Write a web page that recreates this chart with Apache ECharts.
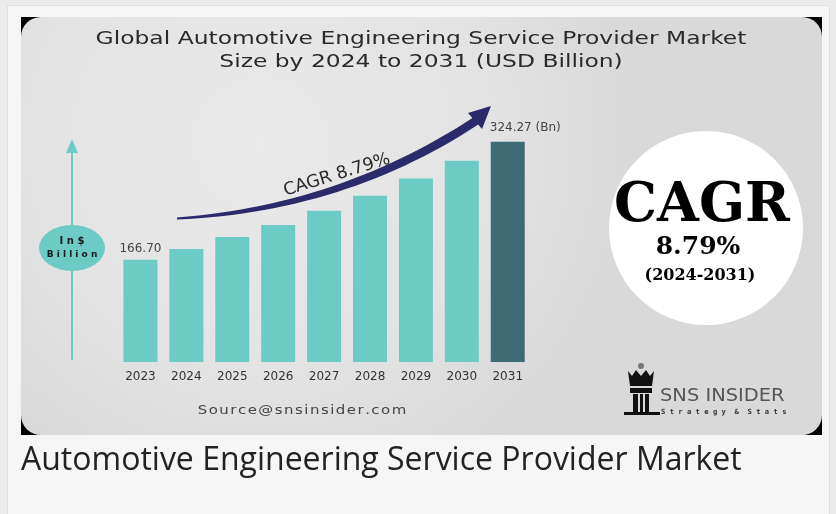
<!DOCTYPE html>
<html>
<head>
<meta charset="utf-8">
<script src="https://cdn.jsdelivr.net/npm/echarts@6/dist/echarts.min.js"></script>
<style>
html,body{margin:0;padding:0;background:#ececec;}
#chart{width:836px;height:514px;}
</style>
</head>
<body>
<div id="chart"></div>
<script>
const years = ['2023','2024','2025','2026','2027','2028','2029','2030','2031'];
const marketSize = [166.70, 181, 197, 213, 232, 252, 275, 299, 324.27];
const titleLines = ['Global Automotive Engineering Service Provider Market', 'Size by 2024 to 2031 (USD Billion)'];
const cagrText = 'CAGR 8.79%';
const cagrValue = '8.79%';
const cagrPeriod = '(2024-2031)';
const unitLabel = ['In$', 'Billion'];
const sourceText = 'Source@snsinsider.com';
const caption = 'Automotive Engineering Service Provider Market';

const teal = '#6ccbc4';
const dark = '#3d6a75';

const chart = echarts.init(document.getElementById('chart'), null, {renderer: 'canvas'});

const barData = marketSize.map((v, i) => {
  const item = {value: v, itemStyle: {color: i === marketSize.length - 1 ? dark : teal}};
  if (i === 0) {
    item.label = {show: true, position: 'top', distance: 5, formatter: (p) => p.value.toFixed(2)};
  } else if (i === marketSize.length - 1) {
    item.label = {show: true, position: [-1, -14], align: 'left', verticalAlign: 'middle',
      formatter: (p) => p.value.toFixed(2) + ' (Bn)'};
  }
  return item;
});

// decorative swoosh outline for the CAGR arrow
function quad(p0, p1, p2, n) {
  const pts = [];
  for (let k = 0; k <= n; k++) {
    const t = k / n, u = 1 - t;
    pts.push([u * u * p0[0] + 2 * u * t * p1[0] + t * t * p2[0], u * u * p0[1] + 2 * u * t * p1[1] + t * t * p2[1]]);
  }
  return pts;
}
const swooshPts = quad([177, 217.5], [340, 205], [474, 117], 30).concat(quad([479, 124], [345, 212.5], [177, 219.5], 30));
const spaced = (s, sep) => s.split('').join(sep);

const option = {
  backgroundColor: '#f6f6f6',
  animation: false,
  grid: {left: 117.5, right: 836 - 530.7, top: 100, bottom: 514 - 362},
  xAxis: {
    type: 'category', data: years,
    axisLine: {show: false}, axisTick: {show: false},
    axisLabel: {color: '#333', fontSize: 12, fontFamily: 'DejaVu Sans', margin: 9}
  },
  yAxis: {type: 'value', min: 30, max: 380, show: false},
  series: [{
    type: 'bar', data: barData, barWidth: 34,
    label: {show: false, color: '#444', fontSize: 12, fontFamily: 'DejaVu Sans'},
    z: 5
  }],
  graphic: [
    // outer page area
    {type: 'rect', z: -30, shape: {x: 0, y: 0, width: 836, height: 5}, style: {fill: '#ececec'}},
    {type: 'rect', z: -30, shape: {x: 0, y: 0, width: 7, height: 514}, style: {fill: '#ececec'}},
    {type: 'rect', z: -30, shape: {x: 830, y: 0, width: 6, height: 514}, style: {fill: '#ececec'}},
    {type: 'rect', z: -29, shape: {x: 7.5, y: 5.5, width: 822, height: 520}, style: {fill: 'none', stroke: '#e0e0e0', lineWidth: 1}},
    // image panel
    {type: 'rect', z: -20, shape: {x: 21, y: 17, width: 801, height: 418}, style: {fill: '#000'}},
    {type: 'rect', z: -19, shape: {x: 21, y: 17, width: 801, height: 418, r: 20},
      style: {fill: new echarts.graphic.RadialGradient(0.3, 0.3, 0.9, [
        {offset: 0, color: '#e9e9e9'}, {offset: 0.6, color: '#e3e3e3'}, {offset: 1, color: '#d9d9d9'}])}},
    // title
    {type: 'text', z: 10, x: 421, y: 39, scaleX: 1.3, style: {text: titleLines[0], fill: '#2a2a2a', font: '18px "DejaVu Sans"', textAlign: 'center', textVerticalAlign: 'middle'}},
    {type: 'text', z: 10, x: 421, y: 62, scaleX: 1.3, style: {text: titleLines[1], fill: '#2a2a2a', font: '18px "DejaVu Sans"', textAlign: 'center', textVerticalAlign: 'middle'}},
    // unit axis decoration
    {type: 'line', z: 6, shape: {x1: 72, y1: 150, x2: 72, y2: 360}, style: {stroke: teal, lineWidth: 2}},
    {type: 'polygon', z: 6, shape: {points: [[72, 139], [66, 153], [78, 153]]}, style: {fill: teal}},
    {type: 'circle', z: 7, x: 72, y: 248, scaleX: 33 / 23, shape: {cx: 0, cy: 0, r: 23}, style: {fill: teal}},
    {type: 'text', z: 8, x: 72, y: 241, style: {text: spaced(unitLabel[0], ' '), fill: '#1a1a1a', font: 'bold 10px "DejaVu Sans"', textAlign: 'center', textVerticalAlign: 'middle'}},
    {type: 'text', z: 8, x: 72, y: 255, style: {text: spaced(unitLabel[1], ' '), fill: '#1a1a1a', font: 'bold 9px "DejaVu Sans"', textAlign: 'center', textVerticalAlign: 'middle'}},
    // CAGR arrow
    {type: 'polygon', z: 6, shape: {points: swooshPts}, style: {fill: '#2b2a6b'}},
    {type: 'polygon', z: 6, shape: {points: [[491, 106], [468, 113], [482, 129]]}, style: {fill: '#2b2a6b'}},
    {type: 'text', z: 7, x: 337, y: 175, rotation: 0.3, style: {text: cagrText, fill: '#2a2a2a', font: '17.5px "DejaVu Sans"', textAlign: 'center', textVerticalAlign: 'middle'}},
    // CAGR circle
    {type: 'circle', z: 5, shape: {cx: 706, cy: 228, r: 97}, style: {fill: '#ffffff'}},
    {type: 'text', z: 6, x: 702, y: 207, style: {text: 'CAGR', fill: '#000', font: 'bold 54px "DejaVu Serif"', textAlign: 'center', textVerticalAlign: 'middle'}},
    {type: 'text', z: 6, x: 698, y: 247, style: {text: cagrValue, fill: '#000', font: 'bold 25px "DejaVu Serif"', textAlign: 'center', textVerticalAlign: 'middle'}},
    {type: 'text', z: 6, x: 700, y: 276, style: {text: cagrPeriod, fill: '#000', font: 'bold 16px "DejaVu Serif"', textAlign: 'center', textVerticalAlign: 'middle'}},
    // source
    {type: 'text', z: 6, x: 302, y: 411, scaleX: 1.15, style: {text: spaced(sourceText, '\u200A'), fill: '#444', font: '13px "DejaVu Sans"', textAlign: 'center', textVerticalAlign: 'middle'}},
    // logo
    {type: 'circle', z: 6, shape: {cx: 641, cy: 366, r: 3}, style: {fill: '#777'}},
    {type: 'polygon', z: 6, shape: {points: [[628, 371], [632, 376], [636, 370], [641, 376], [646, 370], [650, 376], [654, 371], [652, 386], [630, 386]]}, style: {fill: '#111'}},
    {type: 'rect', z: 6, shape: {x: 630, y: 388, width: 22, height: 5}, style: {fill: '#111'}},
    {type: 'rect', z: 6, shape: {x: 633, y: 394, width: 5, height: 18}, style: {fill: '#111'}},
    {type: 'rect', z: 6, shape: {x: 640, y: 394, width: 3, height: 18}, style: {fill: '#111'}},
    {type: 'rect', z: 6, shape: {x: 645, y: 394, width: 4, height: 18}, style: {fill: '#111'}},
    {type: 'rect', z: 6, shape: {x: 624, y: 412, width: 36, height: 3}, style: {fill: '#111'}},
    {type: 'text', z: 6, x: 660, y: 396, scaleX: 1.08, style: {text: 'SNS INSIDER', fill: '#555', font: '18px "DejaVu Sans"', textAlign: 'left', textVerticalAlign: 'middle'}},
    {type: 'text', z: 6, x: 661, y: 412, style: {text: 'S t r a t e g y  &  S t a t s', fill: '#333', font: 'bold 7.2px "DejaVu Sans Mono"', textAlign: 'left', textVerticalAlign: 'middle'}},
    // caption
    {type: 'text', z: 6, x: 21, y: 461, style: {text: caption, fill: '#222', font: '32px "Open Sans"', textAlign: 'left', textVerticalAlign: 'middle'}}
  ]
};
chart.setOption(option);
</script>
</body>
</html>
